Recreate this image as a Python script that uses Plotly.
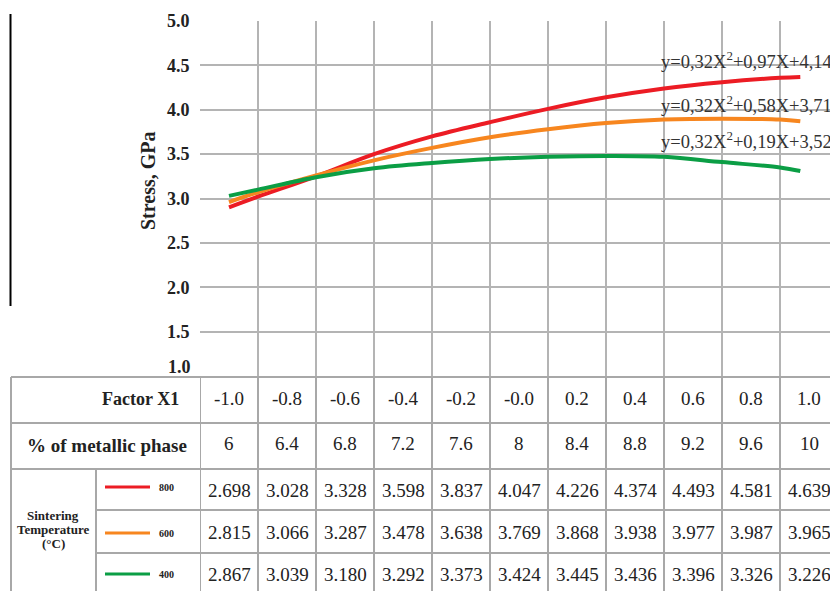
import plotly.graph_objects as go

W, H = 838, 591
OFF = 8  # page body margin compensation

# ---- data ----
factor_x1 = [-1.0, -0.8, -0.6, -0.4, -0.2, 0.0, 0.2, 0.4, 0.6, 0.8, 1.0]
factor_labels = ["-1.0", "-0.8", "-0.6", "-0.4", "-0.2", "-0.0", "0.2", "0.4", "0.6", "0.8", "1.0"]
metal_labels = ["6", "6.4", "6.8", "7.2", "7.6", "8", "8.4", "8.8", "9.2", "9.6", "10"]

t800_table = ["2.698", "3.028", "3.328", "3.598", "3.837", "4.047", "4.226", "4.374", "4.493", "4.581", "4.639"]
t600_table = ["2.815", "3.066", "3.287", "3.478", "3.638", "3.769", "3.868", "3.938", "3.977", "3.987", "3.965"]
t400_table = ["2.867", "3.039", "3.180", "3.292", "3.373", "3.424", "3.445", "3.436", "3.396", "3.326", "3.226"]

# curves
curve_x = [-1.0, -0.9, -0.7, -0.5, -0.3, -0.1, 0.1, 0.3, 0.5, 0.7, 0.9, 0.97]
curve_800 = [2.90, 3.02, 3.25, 3.50, 3.70, 3.86, 4.01, 4.14, 4.24, 4.31, 4.36, 4.37]
curve_600 = [2.96, 3.07, 3.26, 3.43, 3.57, 3.69, 3.78, 3.85, 3.89, 3.90, 3.89, 3.87]
curve_400 = [3.03, 3.10, 3.24, 3.34, 3.40, 3.445, 3.47, 3.48, 3.47, 3.41, 3.35, 3.31]

y_ticks = [1.5, 2.0, 2.5, 3.0, 3.5, 4.0, 4.5, 5.0]

equations = ["y=0,32X<sup>2</sup>+0,97X+4,14",
             "y=0,32X<sup>2</sup>+0,58X+3,71",
             "y=0,32X<sup>2</sup>+0,19X+3,52"]
temps = ["800", "600", "400"]
temp_title = ["Sintering", "Temperature", "(°C)"]

RED, ORANGE, GREEN = "#ec1c24", "#f7861f", "#0b9e45"
GRID = "#b4b4b4"
SERIF = "Liberation Serif, Times New Roman, serif"
TXT = "#222222"


def px(x):
    return (x - OFF) / W


def py(y):
    return 1 - (y - OFF) / H


fig = go.Figure()
for ys, col, name in [(curve_800, RED, "800"), (curve_600, ORANGE, "600"), (curve_400, GREEN, "400")]:
    fig.add_trace(go.Scatter(x=curve_x, y=ys, mode="lines", name=name,
                             line=dict(color=col, width=4, shape="spline"),
                             showlegend=False, hoverinfo="skip"))

grid_vals = [round(-1.1 + 0.2 * i, 1) for i in range(12)]

fig.update_layout(
    width=W, height=H,
    margin=dict(l=0, r=0, t=0, b=0, autoexpand=False),
    paper_bgcolor="white", plot_bgcolor="white",
    xaxis=dict(domain=[px(200), px(838)], range=[-1.1, 1.1], tickvals=grid_vals,
               showticklabels=False, showgrid=True, gridcolor=GRID, gridwidth=1.5,
               zeroline=False, showline=False, ticks="", automargin=False),
    yaxis=dict(domain=[py(376), py(21)], range=[1.0, 5.0], tickvals=y_ticks,
               tickformat=".1f", showgrid=True, gridcolor=GRID, gridwidth=1.5,
               zeroline=False, showline=False, ticks="outside", ticklen=6,
               tickcolor="rgba(0,0,0,0)", automargin=False,
               tickfont=dict(family=SERIF, size=18, color=TXT, weight="bold")),
)

shapes = []
shapes.append(dict(type="line", xref="paper", yref="paper", x0=px(10.5), x1=px(10.5),
                   y0=py(14), y1=py(306), line=dict(color="black", width=2)))
LC = "#a8a8a8"
for yy, x0 in [(377, 11), (423, 11), (469, 11), (510, 96), (553, 96)]:
    shapes.append(dict(type="line", xref="paper", yref="paper", x0=px(x0), x1=px(838),
                       y0=py(yy), y1=py(yy), line=dict(color=LC, width=2)))
shapes.append(dict(type="line", xref="paper", yref="paper", x0=px(11), x1=px(11),
                   y0=py(377), y1=py(600), line=dict(color=LC, width=2)))
shapes.append(dict(type="line", xref="paper", yref="paper", x0=px(96), x1=px(96),
                   y0=py(469), y1=py(600), line=dict(color=LC, width=2)))
for gv in grid_vals:
    shapes.append(dict(type="line", xref="x", yref="paper", x0=gv, x1=gv,
                       y0=py(600), y1=py(376), line=dict(color=LC, width=2)))
for col, yy in [(RED, 487), (ORANGE, 533), (GREEN, 574)]:
    shapes.append(dict(type="line", xref="paper", yref="paper", x0=px(105), x1=px(150),
                       y0=py(yy), y1=py(yy), line=dict(color=col, width=3)))
fig.update_layout(shapes=shapes)


def note(text, x, y, size, xanchor="center", bold=False, color=TXT, xref="paper", angle=0):
    return dict(text=("<b>%s</b>" % text) if bold else text, xref=xref, yref="paper",
                x=x, y=y, xanchor=xanchor, yanchor="middle", textangle=angle,
                showarrow=False, align="center",
                font=dict(family=SERIF, size=size, color=color))


ann = []
ann.append(note("Stress, GPa", px(148), py(181), 20, bold=True, angle=-90))
ann.append(note("1.0", px(193), py(367), 18, xanchor="right", bold=True))
for eq, yy in zip(equations, [60, 104, 140]):
    ann.append(note(eq, px(659), py(yy), 18.5, xanchor="left", color="#333333"))
ann.append(note("Factor X1", px(181), py(399), 18, xanchor="right", bold=True))
ann.append(note("% of metallic phase", px(107), py(445), 19, bold=True))
for t, yy in zip(temp_title, [515, 529, 543]):
    ann.append(note(t, px(53), py(yy), 13, bold=True))
for t, yy in zip(temps, [487, 533, 574]):
    ann.append(note(t, px(157), py(yy), 10, xanchor="left", bold=True))
rows = [(factor_labels, 398), (metal_labels, 443),
        (t800_table, 490), (t600_table, 532), (t400_table, 574)]
for labels, yy in rows:
    for xv, lab in zip(factor_x1, labels):
        ann.append(note(lab, xv, py(yy), 19, xref="x"))
fig.update_layout(annotations=ann)

fig.write_html("out.html")
